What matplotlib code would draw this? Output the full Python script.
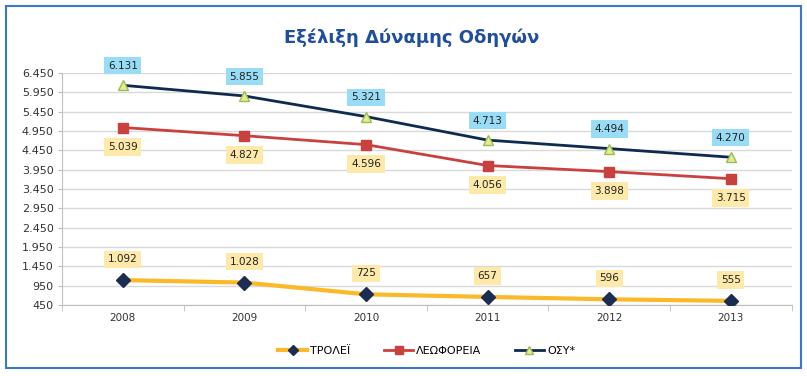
import matplotlib.pyplot as plt
from matplotlib.patches import Rectangle

# Δεδομένα
years = ["2008", "2009", "2010", "2011", "2012", "2013"]
troley = [1092, 1028, 725, 657, 596, 555]
leoforeia = [5039, 4827, 4596, 4056, 3898, 3715]
osy = [6131, 5855, 5321, 4713, 4494, 4270]
yticks = list(range(450, 6451, 500))

def fmt(v):
    return f"{v:,}".replace(",", ".")

plt.rcParams['font.family'] = ['DejaVu Sans']

fig = plt.figure(figsize=(8.07, 3.76), dpi=100)
ax = fig.add_axes([0.0768, 0.189, 0.904, 0.617])

x = list(range(len(years)))
ax.plot(x, troley, color="#fbb829", lw=3, marker="D", ms=7,
        mfc="#1b2e52", mec="#1b2e52", label="ΤΡΟΛΕΪ", zorder=3)
ax.plot(x, leoforeia, color="#c9413e", lw=2, marker="s", ms=7,
        mfc="#c9413e", mec="#c9413e", label="ΛΕΩΦΟΡΕΙΑ", zorder=3)
ax.plot(x, osy, color="#0e2a4f", lw=2, marker="^", ms=7,
        mfc="#e4ec8e", mec="#9bbb59", label="ΟΣΥ*", zorder=3)

yellow = "#fde9a9"
blue = "#99dcf5"
for i in x:
    ax.annotate(fmt(osy[i]), (i, osy[i]), xytext=(0, 14), textcoords="offset points",
                ha="center", va="center", fontsize=7.5, color="#222222",
                bbox=dict(boxstyle="square,pad=0.35", fc=blue, ec="none"))
    ax.annotate(fmt(leoforeia[i]), (i, leoforeia[i]), xytext=(0, -14), textcoords="offset points",
                ha="center", va="center", fontsize=7.5, color="#222222",
                bbox=dict(boxstyle="square,pad=0.35", fc=yellow, ec="none"))
    ax.annotate(fmt(troley[i]), (i, troley[i]), xytext=(0, 15), textcoords="offset points",
                ha="center", va="center", fontsize=7.5, color="#222222",
                bbox=dict(boxstyle="square,pad=0.35", fc=yellow, ec="none"))

ax.set_xlim(-0.5, len(years) - 0.5)
ax.set_ylim(450, 6450)
ax.set_yticks(yticks)
ax.set_yticklabels([fmt(v) for v in yticks], fontsize=8, color="#333333")
ax.set_xticks(x)
ax.set_xticklabels(years, fontsize=7.5, color="#333333")
ax.tick_params(axis="x", length=0, pad=6)
ax.set_xticks([i - 0.5 for i in range(len(years) + 1)], minor=True)
ax.tick_params(axis="x", which="minor", length=4, color="#bfbfbf", direction="out")
ax.tick_params(axis="y", length=3, color="#bfbfbf", pad=3)
ax.grid(axis="y", color="#d9d9d9", lw=1)
ax.set_axisbelow(True)
for s in ["top", "right"]:
    ax.spines[s].set_visible(False)
ax.spines["left"].set_color("#bfbfbf")
ax.spines["bottom"].set_color("#bfbfbf")

fig.text(0.51, 0.9, "Εξέλιξη Δύναμης Οδηγών", ha="center", va="center",
         fontsize=13, fontweight="bold", color="#1f4e9c")

ax.legend(loc="upper center", bbox_to_anchor=(0.5, -0.135), ncol=3, frameon=False,
          fontsize=8, handlelength=2.6, columnspacing=3, handletextpad=0.3,
          markerscale=0.75)

fig.patches.append(Rectangle((0.007, 0.02), 0.985, 0.965, transform=fig.transFigure,
                             fill=False, ec="#3a78c9", lw=1.5))

fig.savefig("out.png", dpi=100)
